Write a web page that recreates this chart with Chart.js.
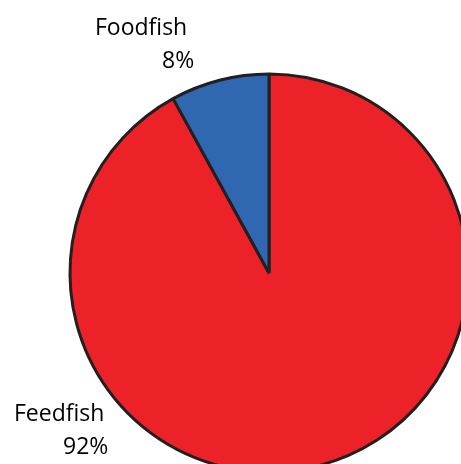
<!DOCTYPE html>
<html>
<head>
<meta charset="utf-8">
<script src="https://cdn.jsdelivr.net/npm/chart.js@4"></script>
<style>
  html, body { margin: 0; padding: 0; background: #fff; }
  #wrap { position: relative; width: 461px; height: 464px; overflow: hidden; }
  #myChart { position: absolute; left: -31px; top: -27px; }
</style>
</head>
<body>
<div id="wrap"><canvas id="myChart" width="600" height="600"></canvas></div>
<script>
"use strict"

const fishTypes = ["Feedfish", "Foodfish"];
const fishShares = [92, 8];
const sliceColors = ["#ed2228", "#2f67b1"];

// where the labels sit (page coords), name line then percent line
const labelSpots = [
    { name: [14, 421], pct: [63, 454] },
    { name: [95, 35], pct: [162, 68] }
];

const offsetX = 31;
const offsetY = 27;

const pieLabels = {
    id: "pieLabels",
    afterDraw(chart) {
        const ctx = chart.ctx;
        ctx.save();
        ctx.fillStyle = "#000";
        ctx.font = "23px 'Open Sans'";
        ctx.textAlign = "left";
        ctx.textBaseline = "alphabetic";
        for (let i = 0; i < fishTypes.length; i++) {
            let spot = labelSpots[i];
            ctx.fillText(fishTypes[i], spot.name[0] + offsetX, spot.name[1] + offsetY);
            ctx.fillText(fishShares[i] + "%", spot.pct[0] + offsetX, spot.pct[1] + offsetY);
        }
        ctx.restore();
    }
};

const data = {
    labels: fishTypes,
    datasets: [
        {
            data: fishShares,
            backgroundColor: sliceColors,
            borderColor: "#231f20",
            borderWidth: 3
        }
    ]
};

const config = {
    type: "pie",
    data: data,
    options: {
        responsive: false,
        animation: false,
        radius: 199,
        layout: { padding: 101 },
        plugins: {
            legend: { display: false },
            tooltip: { enabled: false }
        }
    },
    plugins: [pieLabels]
};

const fishChart = new Chart(document.getElementById("myChart"), config);
</script>
</body>
</html>
